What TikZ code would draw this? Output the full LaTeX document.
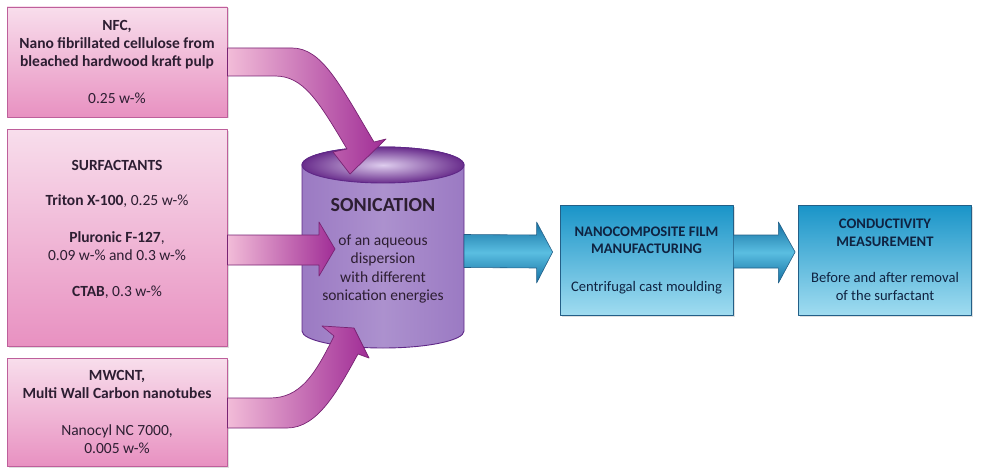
\documentclass[tikz,border=0pt]{standalone}
\usepackage{fontspec}
\setmainfont{Carlito}
\usetikzlibrary{calc,shadows}
\definecolor{pinktop}{RGB}{248,222,236}
\definecolor{pinkbot}{RGB}{232,145,193}
\definecolor{pinkline}{RGB}{190,95,155}
\definecolor{arrowlight}{RGB}{242,188,216}
\definecolor{arrowdark}{RGB}{160,45,150}
\definecolor{arrowline}{RGB}{120,35,115}
\definecolor{cylbody}{RGB}{172,145,206}
\definecolor{cylside}{RGB}{155,122,195}
\definecolor{cylline}{RGB}{95,40,135}
\definecolor{cylrim}{RGB}{105,45,140}
\definecolor{cylglow}{RGB}{222,205,238}
\definecolor{bluetop}{RGB}{25,148,200}
\definecolor{bluebot}{RGB}{160,220,240}
\definecolor{blueline}{RGB}{35,95,135}
\definecolor{bluedark}{RGB}{20,112,162}
\definecolor{bluemid}{RGB}{90,190,225}
\definecolor{txt}{RGB}{45,30,50}
\definecolor{bluetxt}{RGB}{15,35,65}
\begin{document}
\begin{tikzpicture}[x=1pt,y=1pt,line join=round,
	inbox/.style={draw=pinkline,line width=0.8pt,top color=pinktop,bottom color=pinkbot,minimum width=220pt,
		drop shadow={opacity=0.25,shadow xshift=1.5pt,shadow yshift=-1.5pt}},
	intext/.style={text=txt,align=center,font=\fontsize{15.5}{17.8}\selectfont},
	outbox/.style={draw=blueline,line width=0.8pt,top color=bluetop,bottom color=bluebot,minimum width=173pt,minimum height=110pt,
		drop shadow={opacity=0.25,shadow xshift=1.5pt,shadow yshift=-1.5pt},text=bluetxt,align=center,font=\fontsize{14.6}{17.5}\selectfont},
	pinkarrow/.style={draw=arrowline,line width=0.7pt,left color=arrowlight,right color=arrowdark},
	bluearrow/.style={draw=blueline,line width=0.6pt,top color=bluedark,bottom color=bluedark,middle color=bluemid}]
	\useasboundingbox (0,0) rectangle (992,-468);
	
	% input boxes
	\node[inbox,minimum height=110pt] (nfc) at (117,-62) {};
	\node[inbox,minimum height=217pt] (surf) at (117,-237.5) {};
	\node[inbox,minimum height=108pt] (mwcnt) at (117,-412) {};
	\node[intext] (nfctext) at (nfc.center) {\textbf{NFC,}\\\textbf{Nano fibrillated cellulose from}\\\textbf{bleached hardwood kraft pulp}\\[19pt]0.25 w-\%};
	\node[intext] (surftext) at ([yshift=8pt]surf.center) {\textbf{SURFACTANTS}\\[17pt]\textbf{Triton X-100}, 0.25 w-\%\\[19pt]\textbf{Pluronic F-127},\\0.09 w-\% and 0.3 w-\%\\[18pt]\textbf{CTAB}, 0.3 w-\%};
	\node[intext] (mwcnttext) at (mwcnt.center) {\textbf{MWCNT,}\\\textbf{Multi Wall Carbon nanotubes}\\[20pt]Nanocyl NC 7000,\\0.005 w-\%};
	
	% sonication vessel
	\coordinate (cyltop) at (383,-165);
	\coordinate (cylbot) at (383,-331);
	\draw[draw=cylline,line width=0.9pt,left color=cylside,right color=cylside,middle color=cylbody]
		($(cyltop)+(-81,0)$) -- ($(cylbot)+(-81,0)$) arc (180:360:81 and 17) -- ($(cyltop)+(81,0)$) arc (0:180:81 and 18) -- cycle;
	\draw[draw=cylline,line width=0.9pt,inner color=cylglow,outer color=cylrim] (cyltop) ellipse (81 and 18);
	\node[text=txt,align=center,font=\fontsize{15.5}{18.5}\selectfont,minimum width=162pt,inner sep=0pt,outer sep=0pt] (soni) at (383,-251)
		{{\fontsize{20}{22}\selectfont\bfseries SONICATION}\\[15pt]of an aqueous\\dispersion\\with different\\sonication energies};
	
	% output boxes
	\node[outbox] (nano) at (646.5,-260) {\textbf{NANOCOMPOSITE FILM}\\\textbf{MANUFACTURING}\\[20pt]Centrifugal cast moulding};
	\node[outbox] (meas) at (885,-260) {\textbf{CONDUCTIVITY}\\\textbf{MEASUREMENT}\\[19pt]Before and after removal\\of the surfactant};
	
	% block arrows
	\draw[pinkarrow] ($(nfc.east)+(0,14)$) -- (292,-48) .. controls (322,-48) and (340,-85) .. (374,-142)
		-- (386,-139) -- (350,-174) -- (333,-152) -- (347,-149) .. controls (318,-100) and (303,-76) .. (275,-76)
		-- ($(nfc.east)+(0,-14)$) -- cycle;
	\draw[pinkarrow] ($(surf.east)+(0,2.5)$) -- (319,-235) -- (319,-222) -- (335,-249) -- (319,-276) -- (319,-265)
		-- ($(surf.east)+(0,-27.5)$) -- cycle;
	\draw[pinkarrow] ($(mwcnt.east)+(0,-16)$) -- (287,-428) .. controls (318,-428) and (338,-390) .. (358,-354)
		-- (369,-358) -- (354,-328) -- (322,-326) -- (334,-336) .. controls (315,-375) and (300,-398) .. (270,-398)
		-- ($(mwcnt.east)+(0,14)$) -- cycle;
	\draw[bluearrow] ($(soni.east)+(0,16.5)$) -- ($(nano.west)+(-23,25)$) -- ++(0,13) -- ($(nano.west)+(-7,8)$)
		-- ($(nano.west)+(-23,-23)$) -- ++(0,15) -- ($(soni.east)+(0,-16.5)$) -- cycle;
	\draw[bluearrow] ($(nano.east)+(0,25)$) -- ++(45,0) -- ++(0,13) -- ($(meas.west)+(-3,8)$)
		-- ($(nano.east)+(45,-23)$) -- ++(0,15) -- ($(nano.east)+(0,-8)$) -- cycle;
\end{tikzpicture}
\end{document}
